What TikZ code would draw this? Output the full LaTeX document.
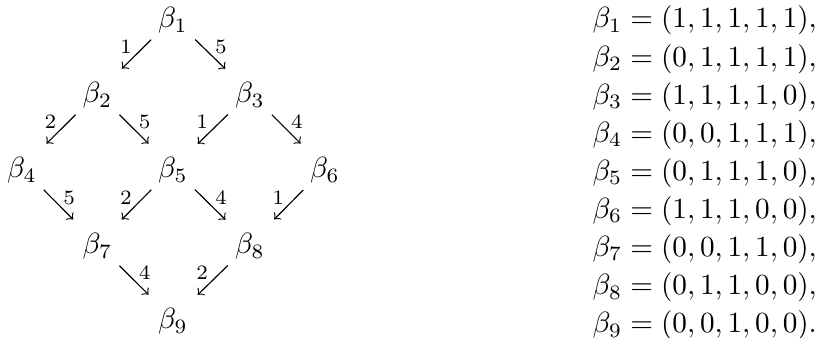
\documentclass[tikz,border=0pt]{standalone}
\usepackage{amsmath}
\begin{document}
\begin{tikzpicture}[x=0.3425pt,y=-0.3425pt,
  vert/.style={anchor=base,inner sep=0pt,text height=6.9pt,text depth=0pt},
  eqn/.style={anchor=base west,inner sep=0pt},
  arr/.style={->,line width=0.4pt,shorten <=10.6pt,shorten >=11.8pt},
  labl/.style={anchor=south east,inner sep=1pt,pos=0.5,yshift=-0.6pt},
  labr/.style={anchor=south west,inner sep=1pt,pos=0.5,yshift=-0.6pt}]
\useasboundingbox (0,0) rectangle (817,338);
% vertices
\node[vert] (b1) at (173,28)  {$\beta_1$};
\node[vert] (b2) at (97.5,103) {$\beta_2$};
\node[vert] (b3) at (250,103) {$\beta_3$};
\node[vert] (b4) at (22,178)  {$\beta_4$};
\node[vert] (b5) at (173,178) {$\beta_5$};
\node[vert] (b6) at (325,178) {$\beta_6$};
\node[vert] (b7) at (97.5,254) {$\beta_7$};
\node[vert] (b8) at (250,254) {$\beta_8$};
\node[vert] (b9) at (173,329) {$\beta_9$};
% arrows
\draw[arr] (b1.center) -- node[labl]{$\scriptstyle 1$} (b2.center);
\draw[arr] (b1.center) -- node[labr]{$\scriptstyle 5$} (b3.center);
\draw[arr] (b2.center) -- node[labl]{$\scriptstyle 2$} (b4.center);
\draw[arr] (b2.center) -- node[labr]{$\scriptstyle 5$} (b5.center);
\draw[arr] (b3.center) -- node[labl]{$\scriptstyle 1$} (b5.center);
\draw[arr] (b3.center) -- node[labr]{$\scriptstyle 4$} (b6.center);
\draw[arr] (b4.center) -- node[labr]{$\scriptstyle 5$} (b7.center);
\draw[arr] (b5.center) -- node[labl]{$\scriptstyle 2$} (b7.center);
\draw[arr] (b5.center) -- node[labr]{$\scriptstyle 4$} (b8.center);
\draw[arr] (b6.center) -- node[labl]{$\scriptstyle 1$} (b8.center);
\draw[arr] (b7.center) -- node[labr]{$\scriptstyle 4$} (b9.center);
\draw[arr] (b8.center) -- node[labl]{$\scriptstyle 2$} (b9.center);
% equations
\node[eqn] (e1) at (592,28)    {$\beta_1 = (1,1,1,1,1),$};
\node[eqn] (e2) at (592,66.1)  {$\beta_2 = (0,1,1,1,1),$};
\node[eqn] (e3) at (592,104.2) {$\beta_3 = (1,1,1,1,0),$};
\node[eqn] (e4) at (592,142.3) {$\beta_4 = (0,0,1,1,1),$};
\node[eqn] (e5) at (592,180.4) {$\beta_5 = (0,1,1,1,0),$};
\node[eqn] (e6) at (592,218.5) {$\beta_6 = (1,1,1,0,0),$};
\node[eqn] (e7) at (592,256.6) {$\beta_7 = (0,0,1,1,0),$};
\node[eqn] (e8) at (592,294.7) {$\beta_8 = (0,1,1,0,0),$};
\node[eqn] (e9) at (592,332.8) {$\beta_9 = (0,0,1,0,0).$};
\end{tikzpicture}
\end{document}
